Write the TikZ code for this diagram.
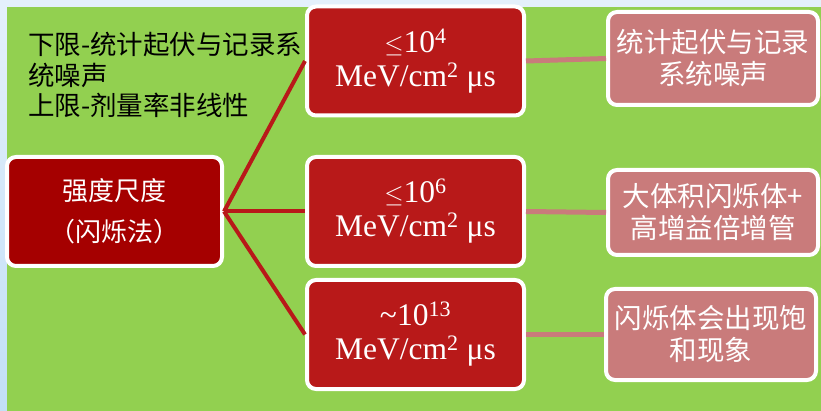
\documentclass[tikz,border=0pt]{standalone}
\usepackage{fontspec}
\setmainfont{Liberation Serif}
\newfontfamily\cjk{Noto Sans CJK SC}
\definecolor{bgblue}{HTML}{E4F0FB}
\definecolor{stripblue}{HTML}{C2DFF7}
\definecolor{bggreen}{HTML}{92D050}
\definecolor{darkred}{HTML}{A50000}
\definecolor{midred}{HTML}{B81919}
\definecolor{pinkred}{HTML}{C97B7B}
\begin{document}
\begin{tikzpicture}[x=1pt,y=-1pt,
  box/.style={draw=white,line width=4pt,rounded corners=9pt,inner sep=0pt,
    text=white,align=center,anchor=center},
  rootbox/.style={box,fill=darkred,minimum width=215pt,minimum height=109pt,
    font=\cjk\fontsize{26}{41}\selectfont},
  valbox/.style={box,fill=midred,minimum width=217pt,minimum height=109pt,
    font=\fontsize{31.5}{34}\selectfont},
  notebox/.style={box,fill=pinkred,minimum width=210pt,
    font=\cjk\fontsize{27.5}{32}\selectfont},
  rootlink/.style={draw=midred,line width=4pt},
  notelink/.style={draw=pinkred,line width=5pt}]
\useasboundingbox (0,0) rectangle (821,411);
\fill[bgblue] (0,0) rectangle (821,411);
\shade[top color=bgblue,bottom color=stripblue] (0,7) rectangle (7,411);
\fill[bggreen] (7,7) rectangle (821,411);
\node[anchor=north west,inner sep=0pt,align=left,
  font=\cjk\fontsize{26.5}{30.5}\selectfont] (note) at (28,32)
  {下限-统计起伏与记录系\\统噪声\\上限-剂量率非线性};
\node[rootbox] (root) at (114.5,211.5) {强度尺度\\（闪烁法）};
\node[valbox] (v1) at (415.5,61) {$\leq$10\textsuperscript{4}\\MeV/cm\textsuperscript{2} μs};
\node[valbox] (v2) at (415.5,211.5) {$\leq$10\textsuperscript{6}\\MeV/cm\textsuperscript{2} μs};
\node[valbox] (v3) at (415.5,334.5) {\char`~10\textsuperscript{13}\\MeV/cm\textsuperscript{2} μs};
\node[notebox,minimum height=93pt] (n1) at (713,58.5) {统计起伏与记录\\系统噪声};
\node[notebox,minimum height=85pt] (n2) at (713,212.5) {大体积闪烁体+\\高增益倍增管};
\node[notebox,minimum height=91pt] (n3) at (711,334.5) {闪烁体会出现饱\\和现象};
\draw[rootlink] (root.east) -- (v1.west);
\draw[rootlink] (root.east) -- (v2.west);
\draw[rootlink] (root.east) -- (v3.west);
\draw[notelink] (v1.east) -- (n1.west);
\draw[notelink] (v2.east) -- (n2.west);
\draw[notelink] (v3.east) -- (n3.west);
\end{tikzpicture}
\end{document}
